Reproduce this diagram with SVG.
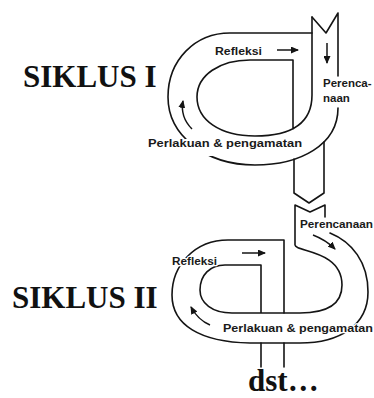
<svg xmlns="http://www.w3.org/2000/svg" width="374" height="398" viewBox="0 0 374 398">
<style>
.ln{fill:none;stroke:#141414;stroke-width:1.6;stroke-linecap:round;stroke-linejoin:round}
.ar{fill:none;stroke:#141414;stroke-width:1.5;marker-end:url(#ah)}
.big{font-family:"Liberation Serif","Times New Roman",serif;font-weight:bold;font-size:31px;fill:#111}
.lbl{font-family:"Liberation Sans",Arial,sans-serif;font-weight:bold;font-size:11.5px;fill:#1a1a1a;stroke:#fff;stroke-width:2.5;paint-order:stroke;stroke-linejoin:round}
</style>
<defs>
<marker id="ah" markerUnits="userSpaceOnUse" markerWidth="8" markerHeight="7" refX="7" refY="3.5" orient="auto"><path d="M0,0 L8,3.5 L0,7 z" fill="#141414"/></marker>
<mask id="m1" maskUnits="userSpaceOnUse" x="0" y="0" width="374" height="398"><rect width="374" height="398" fill="#fff"/><rect x="185" y="139" width="28" height="17" fill="#000"/></mask>
</defs>
<rect width="374" height="398" fill="#fff"/>
<g id="siklus1">
<path class="ln" d="M312,17 L326,33 L338,13 L338,76"/>
<path class="ln" mask="url(#m1)" d="M338,108 C338,145 300,165 255,165 C205,165 168,135 168,97 C168,60 195,33 230,33 L312,33"/>
<path class="ln" d="M312,17 L312,95 C312,125 290,136 255,136 C220,136 197,120 197,97 C197,75 220,60 250,60 L293,60 L293,129"/>
<path class="ln" d="M294,159 L294,193 L309,203 L324,193 L324,142"/>
<text class="big" x="23" y="87">SIKLUS I</text>
<text class="lbl" x="215" y="55" font-size="12" textLength="47" lengthAdjust="spacingAndGlyphs">Refleksi</text>
<text class="lbl" x="323" y="87">Perenca-</text>
<text class="lbl" x="323" y="102">naan</text>
<text class="lbl" x="148" y="147" font-size="12" textLength="154" lengthAdjust="spacingAndGlyphs">Perlakuan &amp; pengamatan</text>
</g>
<g id="siklus2">
<path class="ln" d="M325,217 L325,205 L310,212 L295,205 L295,245 C295,252 342,250 342,285 C342,305 325,313 300,313 L232,313 C212,313 200,303 200,290 C200,275 210,265 225,265 L261,265 L261,313"/>
<path class="ln" d="M330,233 C352,242 368,262 368,292 C368,325 340,343 300,343 L250,343 C200,342 172,325 172,295 C172,265 195,240 228,240 L284,240 L284,313"/>
<path class="ln" d="M261,343 L261,367 M284,343 L284,367"/>
<text class="big" x="12" y="308" font-size="30">SIKLUS II</text>
<text class="lbl" x="300" y="228" textLength="73" lengthAdjust="spacingAndGlyphs">Perencanaan</text>
<text class="lbl" x="172" y="265" font-size="11" textLength="45" lengthAdjust="spacingAndGlyphs">Refleksi</text>
<text class="lbl" x="223" y="332" font-size="12" textLength="150" lengthAdjust="spacingAndGlyphs">Perlakuan &amp; pengamatan</text>
</g>
<g id="connectors">
<path class="ar" d="M277,50 L298,50"/>
<path class="ar" d="M327,43 L327,63"/>
<path class="ar" d="M192,129 Q180,117 183,101"/>
<path class="ar" d="M242,253 L265,253"/>
<path class="ar" d="M313,235 Q326,240 335,249"/>
<path class="ar" d="M210,325 Q198,320 191,307"/>
</g>
<text class="big" x="248" y="391" font-size="30">dst…</text>
</svg>
